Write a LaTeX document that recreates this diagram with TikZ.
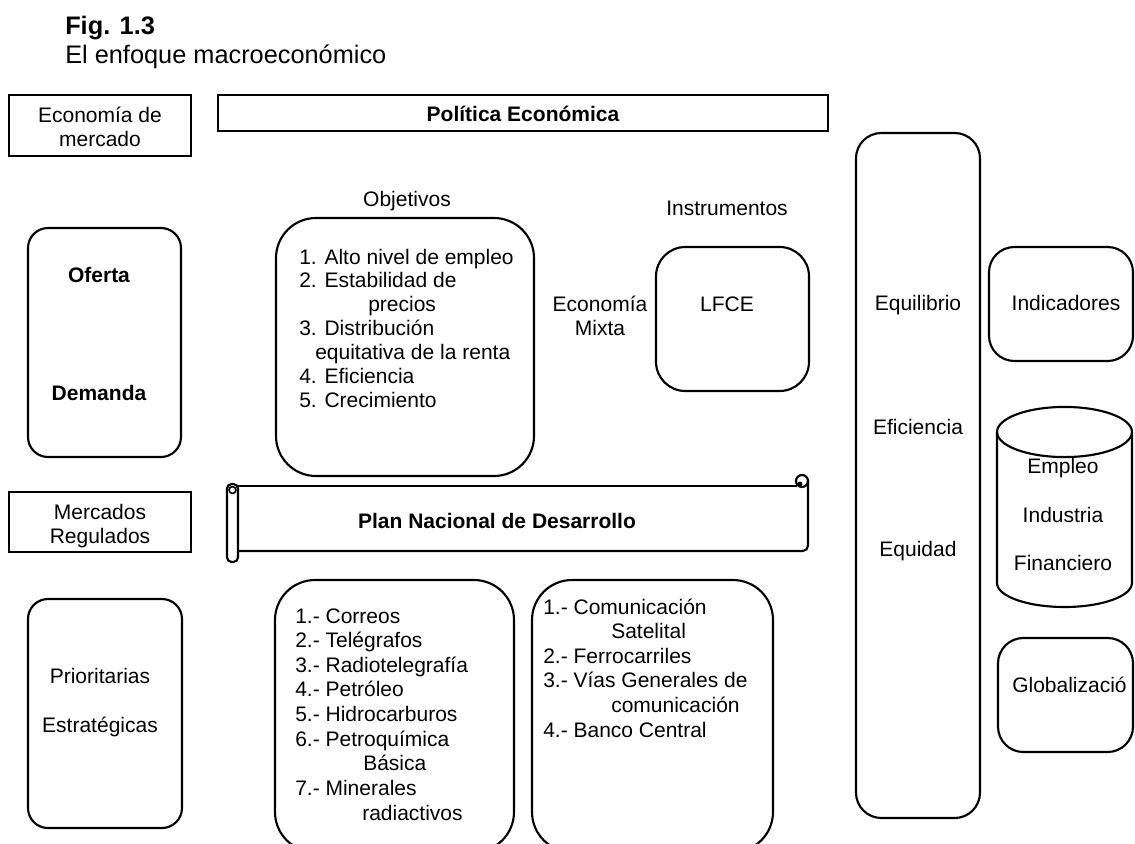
\documentclass[tikz,border=0pt]{standalone}
\usepackage{fontspec}
\setmainfont{Liberation Sans}
\usetikzlibrary{fit}
\newlength{\pxu}\setlength{\pxu}{0.75pt}
\newcommand{\bodyfont}{\fontsize{15.75pt}{18.3pt}\selectfont}
\newcommand{\titlefont}{\fontsize{19pt}{22pt}\selectfont}
\newcommand{\itemlist}[1]{\begin{tabular}[t]{@{}l@{}}#1\end{tabular}}
\newcommand{\centlist}[1]{\begin{tabular}[t]{@{}c@{}}#1\end{tabular}}

\begin{document}
\begin{tikzpicture}[x=0.75pt, y=-0.75pt,
  outline/.style={draw, line width=1.6pt, inner sep=0pt},
  sqbox/.style={outline},
  rbox/.style={outline, rounded corners=#1},
  lbl/.style={inner sep=0pt, font=\bodyfont},
  boldlbl/.style={inner sep=0pt, font=\bodyfont\bfseries},
  edge/.style={line width=1.6pt}
]
\useasboundingbox (0,0) rectangle (1135,843);
\fill[white] (0,0) rectangle (1135,843);
\clip (0,0) rectangle (1135,843);

% heading
\node[anchor=base west, inner sep=0pt, font=\titlefont\bfseries] (fig) at (65,34) {Fig. 1.3};
\node[anchor=base west, inner sep=0pt, font=\titlefont] (title) at (65,63) {El enfoque macroeconómico};

% top row
\node[sqbox, fit={(9,95) (191,156)}] (mercado) {};
\node[lbl, anchor=base] (mercadotxt) at (100,122) {\centlist{Economía de\\ mercado}};
\node[sqbox, fit={(218,95) (828,131)}] (politica) {};
\node[boldlbl, anchor=base] (politicatxt) at (523,121) {Política Económica};

% supply and demand
\node[rbox=15pt, fit={(28,228) (181,457)}] (ofdem) {};
\node[boldlbl, anchor=base] (oferta) at (99,282) {Oferta};
\node[boldlbl, anchor=base] (demanda) at (99,400) {Demanda};

% objectives
\node[lbl, anchor=base] (objlabel) at (407,206) {Objetivos};
\node[rbox=30pt, fit={(276,218) (534,476)}] (objbox) {};
\node[lbl, anchor=base west] (objlist) at (299,264) {\renewcommand{\arraystretch}{0.98}\itemlist{%
1. Alto nivel de empleo\\
2. Estabilidad de\\
\hspace*{69\pxu}precios\\
3. Distribución\\
\hspace*{16\pxu}equitativa de la renta\\
4. Eficiencia\\
5. Crecimiento}};

% instruments
\node[lbl, anchor=base] (instlabel) at (727,215) {Instrumentos};
\node[lbl, anchor=base] (mixta) at (600,311) {\centlist{Economía\\ Mixta}};
\node[rbox=22pt, fit={(656,247) (809,391)}] (lfce) {};
\node[lbl, anchor=base] (lfcetxt) at (727,311) {LFCE};

% regulated markets
\node[sqbox, fit={(9,492) (191,552)}] (regulados) {};
\node[lbl, anchor=base] (reguladostxt) at (100,519) {\centlist{Mercados\\ Regulados}};

% scroll banner
\draw[edge, rounded corners=3.5pt] (227,484) rectangle (238,562);
\draw[line width=1.2pt] (232.5,490) circle (2.6pt);
\draw[edge] (238,486) -- (797,486);
\draw[edge, rounded corners=4pt] (238,551) -- (808,551) -- (808,480);
\draw[edge] (802,481) circle (4.5pt);
\fill (800,484) circle (1.8pt);
\coordinate (scrollL) at (238,518);
\coordinate (scrollR) at (808,518);
\node[boldlbl, anchor=base] (plan) at (497,528) {Plan Nacional de Desarrollo};

% priority and strategic areas
\node[rbox=15pt, fit={(28,599) (182,828)}] (prio) {};
\node[lbl, anchor=base] (priotxt) at (100,683) {Prioritarias};
\node[lbl, anchor=base] (estrtxt) at (100,732) {Estratégicas};

\node[rbox=30pt, fit={(275,580) (514,852)}] (areas1) {};
\node[lbl, anchor=base west] (areas1txt) at (295,623) {\renewcommand{\arraystretch}{1.01}\itemlist{%
1.- Correos\\
2.- Telégrafos\\
3.- Radiotelegrafía\\
4.- Petróleo\\
5.- Hidrocarburos\\
6.- Petroquímica\\
\hspace*{68\pxu}Básica\\
7.- Minerales\\
\hspace*{67\pxu}radiactivos}};

\node[rbox=30pt, fit={(532,580) (773,852)}] (areas2) {};
\node[lbl, anchor=base west] (areas2txt) at (543,614) {\renewcommand{\arraystretch}{1.01}\itemlist{%
1.- Comunicación\\
\hspace*{68\pxu}Satelital\\
2.- Ferrocarriles\\
3.- Vías Generales de\\
\hspace*{68\pxu}comunicación\\
4.- Banco Central}};

% right column
\node[rbox=19pt, fit={(856,133) (980,818)}] (equil) {};
\node[lbl, anchor=base] (equiltxt) at (918,310) {Equilibrio};
\node[lbl, anchor=base] (efictxt) at (918,434) {Eficiencia};
\node[lbl, anchor=base] (equidtxt) at (918,556) {Equidad};

\node[rbox=19pt, fit={(989,247) (1133,361)}] (indic) {};
\node[lbl, anchor=base] (indictxt) at (1066,310) {Indicadores};

% cylinder
\draw[edge] (997,432) -- (997,583) arc[start angle=180, end angle=360, x radius=50.6pt, y radius=18pt] -- (1132,432);
\draw[edge] (1064.5,432) ellipse [x radius=50.6pt, y radius=18.8pt];
\node[lbl, anchor=base] (empleo) at (1063,473) {Empleo};
\node[lbl, anchor=base] (industria) at (1063,522) {Industria};
\node[lbl, anchor=base] (financiero) at (1063,570) {Financiero};

\node[rbox=19pt, fit={(998,638) (1133,752)}] (glob) {};
\node[lbl, anchor=base west] (globtxt) at (1012,692) {Globalizació};
\end{tikzpicture}
\end{document}
